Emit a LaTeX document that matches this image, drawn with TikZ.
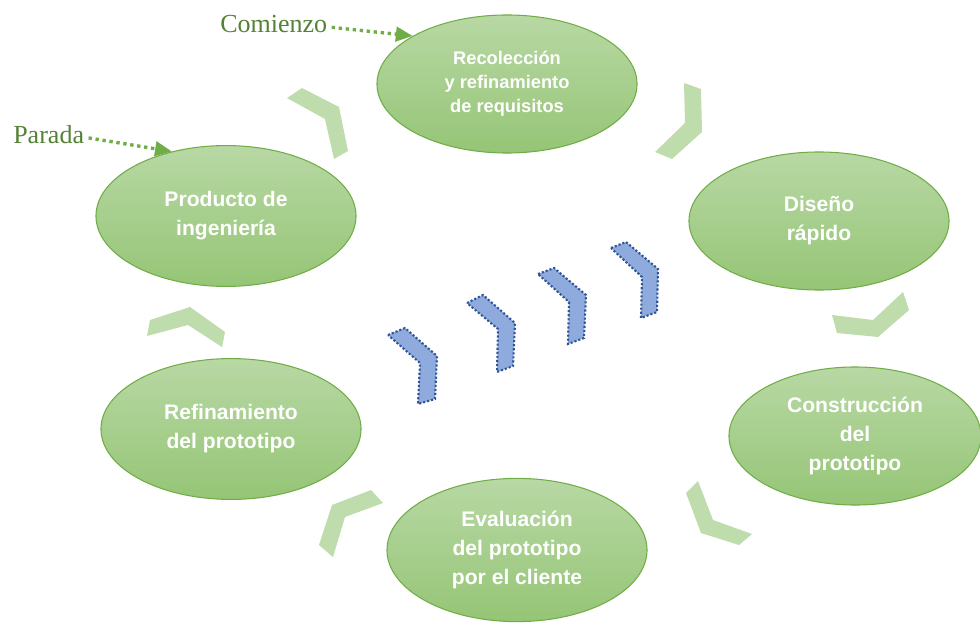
\documentclass[tikz,border=0pt]{standalone}
\usepackage{fontspec}
\setmainfont{Liberation Serif}
\setsansfont{Liberation Sans}
\usetikzlibrary{shapes, arrows.meta}
\definecolor{verdeborde}{RGB}{112,173,71}
\definecolor{verdetexto}{RGB}{84,130,53}
\definecolor{verdearriba}{RGB}{184,216,164}
\definecolor{verdeabajo}{RGB}{149,197,118}
\definecolor{verdeclaro}{RGB}{190,220,172}
\definecolor{azulrelleno}{RGB}{143,170,220}
\definecolor{azulborde}{RGB}{47,85,151}

\begin{document}
\begin{tikzpicture}[
          x=0.025cm, y=-0.025cm,
          fase/.style={ellipse, draw=verdeborde, line width=0.75pt,
                       top color=verdearriba, bottom color=verdeabajo,
                       minimum width=6.5cm, minimum height=3.5cm,
                       inner sep=0pt, text=white, align=center,
                       font=\sffamily\bfseries\fontsize{15pt}{20.6pt}\selectfont},
          marca/.style={inner sep=0pt, anchor=base west, text=verdetexto,
                        font=\fontsize{18.5pt}{22pt}\selectfont},
          punteo/.style={draw=verdeborde, line width=2.4pt,
                         dash pattern=on 2.4pt off 2.6pt,
                         -{Triangle[length=0.42cm, width=0.36cm]}},
          chev/.style={fill=verdeclaro},
          azul/.style={fill=azulrelleno, draw=azulborde, line width=1.5pt,
                       dash pattern=on 1.5pt off 1.4pt}
        ]
          \useasboundingbox (0,0) rectangle (980,623);
          % fases del ciclo
          \node[fase, minimum height=3.45cm,
                font=\sffamily\bfseries\fontsize{13pt}{17pt}\selectfont]
                (rec) at (507,84)  {Recolección\\y refinamiento\\de requisitos};
          \node[fase, minimum height=3.45cm]
                (dis) at (819,221) {Diseño\\rápido};
          \node[fase, minimum height=3.45cm, minimum width=6.3cm]
                (con) at (855,436) {Construcción\\del\\prototipo};
          \node[fase, minimum height=3.58cm]
                (eva) at (517,550) {Evaluación\\del prototipo\\por el cliente};
          \node[fase, minimum height=3.52cm]
                (ref) at (231,429) {Refinamiento\\del prototipo};
          \node[fase, minimum height=3.52cm]
                (pro) at (226,216) {Producto de\\ingeniería};
          % inicio y fin
          \node[marca] (com) at (220,33) {Comienzo};
          \node[marca] (par) at (13,144) {Parada};
          \draw[punteo] ([xshift=3pt, yshift=-2pt]com.east) -- (rec.153);
          \draw[punteo] ([xshift=3pt, yshift=-2pt]par.east) -- (pro.130);
          % flechas verdes
          \fill[chev] (287,98) -- (302,88) -- (339,107) -- (348,151)
                      -- (334,159) -- (325,119) -- cycle;
          \fill[chev] (684,83) -- (701,89) -- (702,132) -- (672,159)
                      -- (655,152) -- (685,123) -- cycle;
          \fill[chev] (832,315) -- (873,320) -- (903,292) -- (909,310)
                      -- (878,337) -- (837,333) -- cycle;
          \fill[chev] (686,493) -- (698,481) -- (713,520) -- (752,534)
                      -- (739,545) -- (701,533) -- cycle;
          \fill[chev] (332,505) -- (371,490) -- (383,503) -- (345,517)
                      -- (333,557) -- (319,545) -- cycle;
          \fill[chev] (150,320) -- (190,307) -- (225,332) -- (222,347)
                      -- (188,325) -- (147,336) -- cycle;
          % flechas azules
          \filldraw[azul] (388,335) -- (405,328) -- (437,356) -- (435,399)
                          -- (418,404) -- (420,363) -- cycle;
          \filldraw[azul] (467,303) -- (483,295) -- (515,323) -- (513,366)
                          -- (497,372) -- (498,329) -- cycle;
          \filldraw[azul] (538,274) -- (554,268) -- (586,295) -- (584,338)
                          -- (568,344) -- (569,302) -- cycle;
          \filldraw[azul] (611,248) -- (626,242) -- (658,269) -- (657,312)
                          -- (641,318) -- (642,277) -- cycle;
        \end{tikzpicture}
\end{document}
